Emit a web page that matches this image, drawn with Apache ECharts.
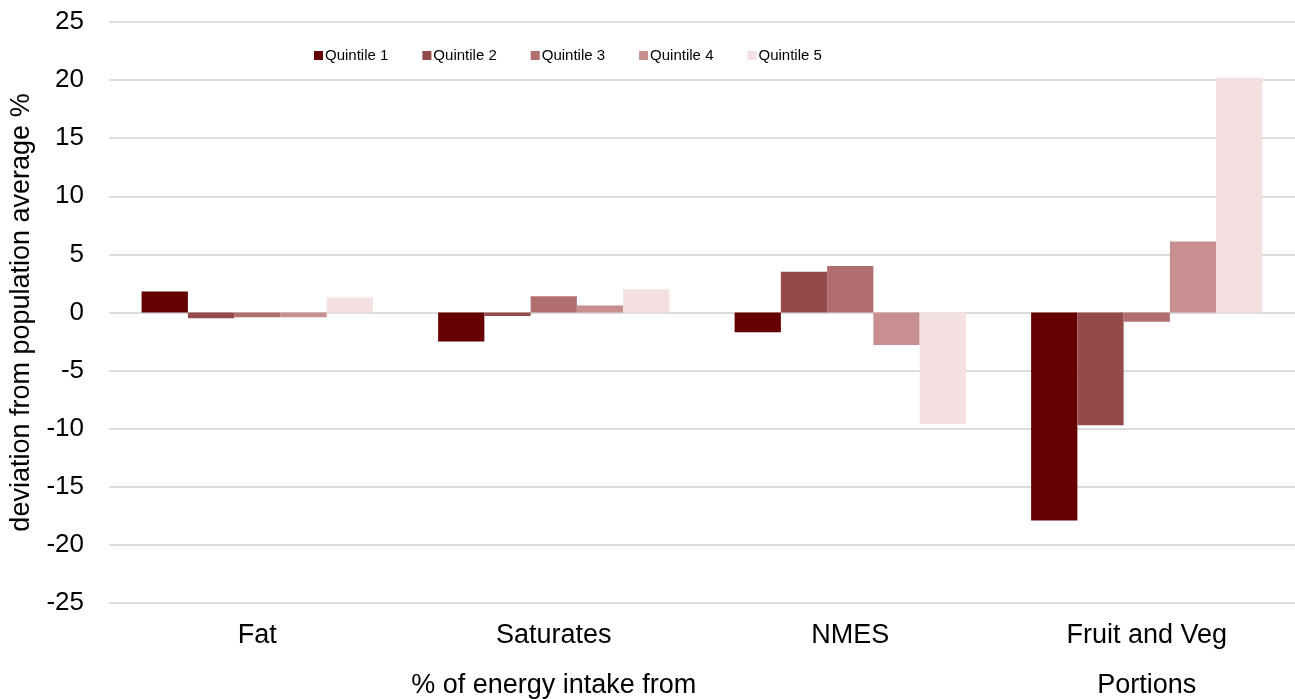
<!DOCTYPE html>
<html>
<head>
<meta charset="utf-8">
<script src="https://cdn.jsdelivr.net/npm/echarts@6/dist/echarts.min.js"></script>
<style>
  html, body { margin: 0; padding: 0; background: #fff; }
  #main { width: 1295px; height: 699px; }
</style>
</head>
<body>
<div id="main"></div>
<script>
// categories and the group label shown under them
const categories = ['Fat', 'Saturates', 'NMES', 'Fruit and Veg'];
const groupLabels = ['', '% of energy intake from', '', 'Portions'];
const seriesNames = ['Quintile 1', 'Quintile 2', 'Quintile 3', 'Quintile 4', 'Quintile 5'];
const colors = ['#660000', '#954a4a', '#b06e6e', '#c78f8f', '#f4e0e0'];

// deviation from population average, %
const q1 = [1.8, -2.5, -1.7, -17.9];
const q2 = [-0.5, -0.3, 3.5, -9.7];
const q3 = [-0.4, 1.4, 4.0, -0.8];
const q4 = [-0.4, 0.6, -2.8, 6.1];
const q5 = [1.3, 2.0, -9.6, 20.2];
const values = [q1, q2, q3, q4, q5];

const yTicks = { min: -25, max: 25, interval: 5 };

let chart = echarts.init(document.getElementById('main'));
let font = "'Liberation Sans', Arial, sans-serif";

let series = seriesNames.map(function (name, i) {
  return {
    name: name,
    type: 'bar',
    data: values[i],
    barGap: '0%',
    barCategoryGap: '22%',
    itemStyle: { color: colors[i] }
  };
});

chart.setOption({
  animation: false,
  textStyle: { fontFamily: font },
  legend: {
    left: 309,
    top: 43,
    itemWidth: 9,
    itemHeight: 9,
    itemGap: 34,
    icon: 'rect',
    textStyle: { fontSize: 15, color: '#000', padding: [0, 0, 0, -3] },
    data: seriesNames
  },
  grid: { left: 109, right: 0, top: 22, bottom: 96, containLabel: false },
  xAxis: {
    type: 'category',
    data: categories,
    axisLine: { show: false },
    axisTick: { show: false },
    axisLabel: {
      interval: 0,
      margin: 20,
      fontSize: 27,
      color: '#000',
      lineHeight: 25,
      formatter: function (v, idx) {
        return groupLabels[idx] ? v + '\n\n' + groupLabels[idx] : v;
      }
    }
  },
  yAxis: {
    type: 'value',
    min: yTicks.min,
    max: yTicks.max,
    interval: yTicks.interval,
    name: 'deviation from population average %',
    nameLocation: 'middle',
    nameGap: 72,
    nameTextStyle: { fontSize: 27, color: '#000' },
    axisLine: { show: false },
    axisTick: { show: false },
    axisLabel: { fontSize: 26, color: '#000', margin: 25 },
    splitLine: { lineStyle: { color: '#d0d0d0', width: 1.5 } }
  },
  series: series
});
</script>
</body>
</html>
